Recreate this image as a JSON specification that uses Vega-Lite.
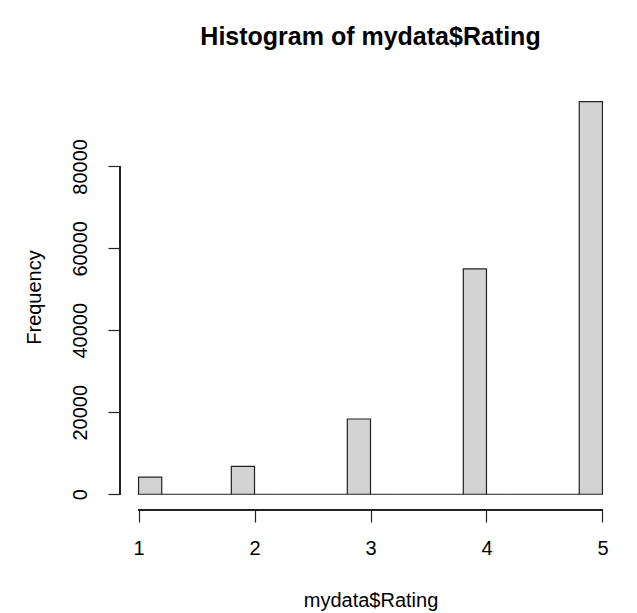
{
  "$schema": "https://vega.github.io/schema/vega-lite/v6.json",
  "width": 501,
  "height": 425,
  "autosize": {"type": "none"},
  "padding": {"left": 120, "top": 85, "right": 16, "bottom": 103},
  "background": "white",
  "config": {
    "view": {"stroke": null},
    "font": "Liberation Sans",
    "axis": {
      "labelFont": "Liberation Sans",
      "titleFont": "Liberation Sans",
      "labelColor": "black",
      "titleColor": "black",
      "tickColor": "#222",
      "grid": false,
      "domain": false
    }
  },
  "title": {
    "text": "Histogram of mydata$Rating",
    "font": "Liberation Sans",
    "fontSize": 25,
    "fontWeight": "bold",
    "color": "black",
    "anchor": "middle",
    "baseline": "alphabetic",
    "offset": 15
  },
  "data": {
    "values": [
      {"bin_start": 1.0, "bin_end": 1.2, "count": 4200},
      {"bin_start": 1.2, "bin_end": 1.4, "count": 0},
      {"bin_start": 1.4, "bin_end": 1.6, "count": 0},
      {"bin_start": 1.6, "bin_end": 1.8, "count": 0},
      {"bin_start": 1.8, "bin_end": 2.0, "count": 6790},
      {"bin_start": 2.0, "bin_end": 2.2, "count": 0},
      {"bin_start": 2.2, "bin_end": 2.4, "count": 0},
      {"bin_start": 2.4, "bin_end": 2.6, "count": 0},
      {"bin_start": 2.6, "bin_end": 2.8, "count": 0},
      {"bin_start": 2.8, "bin_end": 3.0, "count": 18360},
      {"bin_start": 3.0, "bin_end": 3.2, "count": 0},
      {"bin_start": 3.2, "bin_end": 3.4, "count": 0},
      {"bin_start": 3.4, "bin_end": 3.6, "count": 0},
      {"bin_start": 3.6, "bin_end": 3.8, "count": 0},
      {"bin_start": 3.8, "bin_end": 4.0, "count": 55000},
      {"bin_start": 4.0, "bin_end": 4.2, "count": 0},
      {"bin_start": 4.2, "bin_end": 4.4, "count": 0},
      {"bin_start": 4.4, "bin_end": 4.6, "count": 0},
      {"bin_start": 4.6, "bin_end": 4.8, "count": 0},
      {"bin_start": 4.8, "bin_end": 5.0, "count": 95800}
    ]
  },
  "layer": [
    {
      "mark": {"type": "rect", "fill": "#d3d3d3", "stroke": "#222", "strokeWidth": 1.2},
      "encoding": {
        "x": {
          "field": "bin_start",
          "type": "quantitative",
          "scale": {"domain": [0.84, 5.16], "nice": false, "zero": false},
          "axis": {
            "values": [1, 2, 3, 4, 5],
            "format": "d",
            "tickSize": 12,
            "tickWidth": 1.2,
            "labelFontSize": 20,
            "labelBaseline": "alphabetic",
            "labelPadding": 32,
            "labelFlush": false,
            "title": "mydata$Rating",
            "titleFontSize": 20,
            "titleFontWeight": "normal",
            "titleBaseline": "alphabetic",
            "titleX": 250.5,
            "titleY": 96
          }
        },
        "x2": {"field": "bin_end"},
        "y": {
          "field": "count",
          "type": "quantitative",
          "scale": {"domain": [-3840, 99840], "nice": false, "zero": false},
          "axis": {
            "values": [0, 20000, 40000, 60000, 80000],
            "format": "d",
            "tickSize": 12,
            "tickWidth": 1.2,
            "labelFontSize": 20,
            "labelAngle": -90,
            "labelAlign": "center",
            "labelBaseline": "alphabetic",
            "labelPadding": 22,
            "labelFlush": false,
            "title": "Frequency",
            "titleFontSize": 20,
            "titleFontWeight": "normal",
            "titleAngle": -90,
            "titleBaseline": "alphabetic",
            "titleAlign": "center",
            "titleX": -80,
            "titleY": 212
          }
        },
        "y2": {"datum": 0}
      }
    },
    {
      "mark": {"type": "rule", "color": "#222", "strokeWidth": 1.2},
      "encoding": {
        "x": {"datum": 1},
        "x2": {"datum": 5},
        "y": {"datum": -3840}
      }
    },
    {
      "mark": {"type": "rule", "color": "#222", "strokeWidth": 1.2},
      "encoding": {
        "x": {"datum": 0.84},
        "y": {"datum": 0},
        "y2": {"datum": 80000}
      }
    }
  ]
}
